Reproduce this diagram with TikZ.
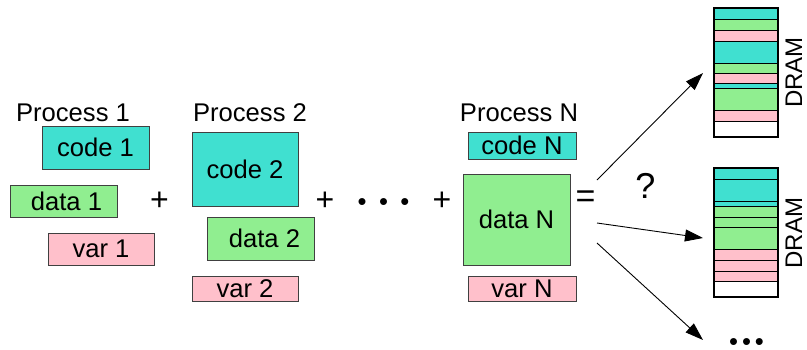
\documentclass[tikz,border=0pt]{standalone}
\usepackage{fontspec}
\setmainfont{Liberation Sans}
\usetikzlibrary{arrows.meta}
\definecolor{cyanc}{HTML}{40E0D0}
\definecolor{greenc}{HTML}{90EE90}
\definecolor{pinkc}{HTML}{FFC0CB}
\newcommand{\dotrow}[1]{\raisebox{-5pt}[8pt][0pt]{•\hspace{#1}•\hspace{#1}•}}
\begin{document}
\begin{tikzpicture}[x=1pt,y=-1pt,
  every node/.style={font=\fontsize{25.6}{30}\selectfont, inner sep=0pt, outer sep=0pt},
  blk/.style={draw=black!75, line width=1pt},
  band/.style={draw=black, line width=0.9pt},
  dramframe/.style={draw=black, line width=1.6pt, minimum width=64pt},
  opnode/.style={font=\fontsize{32}{36}\selectfont},
  dramlab/.style={rotate=90, font=\fontsize{24}{28}\selectfont},
  arr/.style={line width=0.9pt, -{Triangle[length=18pt,width=12pt]}}]
\useasboundingbox (0,0) rectangle (807,349);
% Process labels
\node[anchor=base] (p1) at (73,121) {Process 1};
\node[anchor=base] (p2) at (250,121) {Process 2};
\node[anchor=base] (pN) at (519,121) {Process N};
% Process 1
\node[blk, fill=cyanc, minimum width=107pt, minimum height=43pt] (code1) at (95.5,147.5) {code 1};
\node[blk, fill=greenc, minimum width=107pt, minimum height=32pt] (data1) at (63.5,201) {\hspace{6pt}data 1};
\node[blk, fill=pinkc, minimum width=106pt, minimum height=32pt] (var1) at (101,249) {var 1};
% Process 2
\node[blk, fill=cyanc, minimum width=106pt, minimum height=74pt] (code2) at (245,169) {code 2};
\node[blk, fill=greenc, minimum width=107pt, minimum height=43pt] (data2) at (260.5,238.5) {\hspace{8pt}data 2};
\node[blk, fill=pinkc, minimum width=106pt, minimum height=25pt] (var2) at (245,288.5) {var 2};
% Process N
\node[blk, fill=cyanc, minimum width=108pt, minimum height=27pt] (codeN) at (522,145.5) {code N};
\node[blk, fill=greenc, minimum width=107pt, minimum height=91pt] (dataN) at (516.5,219.5) {data N};
\node[blk, fill=pinkc, minimum width=108pt, minimum height=25pt] (varN) at (522,288.5) {var N};
% operators
\node[opnode] (plus1) at (159.5,201) {+};
\node[opnode] (plus2) at (325,201) {+};
\node (dots) at (383.5,201) {\dotrow{12.5pt}};
\node[opnode] (plus3) at (442,201) {+};
\node[opnode, font=\fontsize{34}{38}\selectfont] (eq) at (585.5,199) {=};
\node[font=\fontsize{36}{40}\selectfont] (q) at (645.5,185.5) {?};
% DRAM 1
\foreach \a/\b/\c in {8/19/cyanc, 19/30/greenc, 30/41/pinkc, 41/63/cyanc, 63/73/greenc, 73/83/pinkc, 83/88/cyanc, 88/110/greenc, 110/121/pinkc, 121/137/white}
  \draw[band, fill=\c] (714,\a) rectangle (778,\b);
\node[dramframe, minimum height=129pt] (dram1) at (746,72.5) {};
\node[dramlab, anchor=base] (dramlabel1) at (802,72.5) {DRAM};
% DRAM 2
\foreach \a/\b/\c in {168/179/cyanc, 179/201/cyanc, 201/206/cyanc, 206/217/greenc, 217/227/greenc, 227/249/greenc, 249/260/pinkc, 260/271/pinkc, 271/281/pinkc, 281/297/white}
  \draw[band, fill=\c] (714,\a) rectangle (778,\b);
\node[dramframe, minimum height=129pt] (dram2) at (746,232.5) {};
\node[dramlab, anchor=base] (dramlabel2) at (802,233) {DRAM};
% more
\node (more) at (746.5,341.5) {\dotrow{4pt}};
% arrows
\coordinate (s1) at (597,180);
\coordinate (e1) at (703,73);
\coordinate (s2) at (597,223);
\coordinate (e2) at (703,238);
\coordinate (s3) at (597,243);
\coordinate (e3) at (703,340);
\draw[arr] (s1) -- (e1);
\draw[arr] (s2) -- (e2);
\draw[arr] (s3) -- (e3);
\end{tikzpicture}
\end{document}
